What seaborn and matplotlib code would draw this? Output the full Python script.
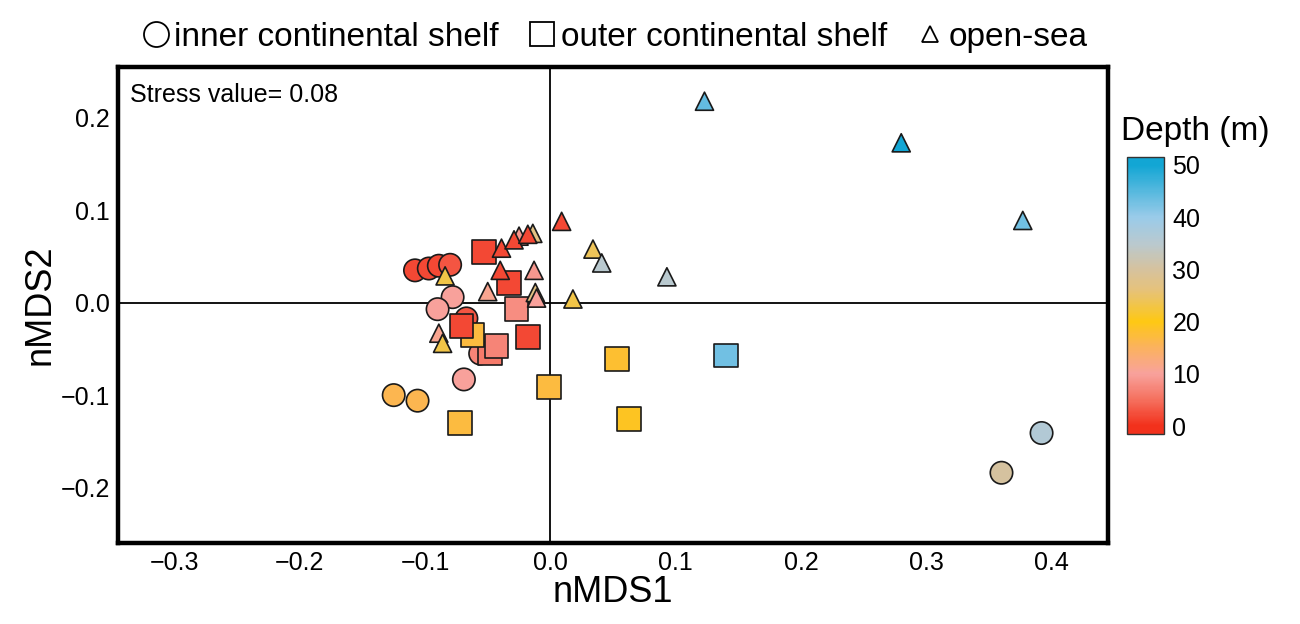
"""
nMDS ordination plot: stations coloured by depth, shaped by zone.
"""
import matplotlib

matplotlib.use("Agg")
import matplotlib.pyplot as plt
from matplotlib.colors import LinearSegmentedColormap, Normalize
from matplotlib.cm import ScalarMappable
from matplotlib.lines import Line2D
from matplotlib.ticker import FuncFormatter
import pandas as pd
import seaborn as sns

# ---------------------------------------------------------------------------
# data (nMDS1, nMDS2, depth in m)
# ---------------------------------------------------------------------------
inner_x = [-0.108, -0.097, -0.089, -0.080, -0.078, -0.090, -0.067, -0.056,
           -0.069, -0.125, -0.106, 0.392, 0.360]
inner_y = [0.035, 0.037, 0.040, 0.041, 0.006, -0.007, -0.017, -0.055,
           -0.083, -0.100, -0.106, -0.141, -0.184]
inner_depth = [2, 2, 2, 3, 10, 10, 3, 7, 10, 16, 16, 36, 30]

outer_x = [-0.053, -0.033, -0.027, -0.048, -0.043, -0.062, -0.071, -0.018,
           -0.001, -0.072, 0.053, 0.063, 0.140]
outer_y = [0.055, 0.021, -0.007, -0.055, -0.047, -0.035, -0.025, -0.037,
           -0.091, -0.130, -0.061, -0.126, -0.057]
outer_depth = [2, 2, 8, 6, 7, 17, 2, 2, 17, 17, 18, 19, 43]

sea_x = [0.009, -0.084, -0.025, -0.014, -0.039, -0.029, -0.018, -0.040,
         -0.013, -0.050, -0.012, -0.011, -0.089, -0.086, 0.034, 0.041,
         0.093, 0.018, 0.123, 0.280, 0.377]
sea_y = [0.088, 0.029, 0.072, 0.075, 0.059, 0.068, 0.074, 0.035,
         0.035, 0.012, 0.011, 0.005, -0.033, -0.044, 0.058, 0.043,
         0.028, 0.004, 0.218, 0.173, 0.089]
sea_depth = [2, 23, 9, 27, 2, 2, 2, 2, 9, 11, 27, 10, 11, 23, 24, 35,
             35, 23, 44, 50, 43]

zone_labels = ["inner continental shelf", "outer continental shelf", "open-sea"]
stress_text = "Stress value= 0.08"

# colour scale of the depth bar
depth_stops = [0, 5, 10, 15, 20, 26, 30, 35, 40, 50]
stop_colors = ["#f2311c", "#f5705e", "#f8a29c", "#fbb25e", "#fec814",
               "#e6c27a", "#d6c29e", "#b9c9cf", "#9acbe9", "#12a6d4"]
depth_ticks = [0, 10, 20, 30, 40, 50]

# ---------------------------------------------------------------------------
sns.set_style("white")
plt.rcParams["font.family"] = ["Liberation Sans", "DejaVu Sans"]
plt.rcParams["text.color"] = "black"
plt.rcParams["axes.labelcolor"] = "black"
plt.rcParams["xtick.color"] = "black"
plt.rcParams["ytick.color"] = "black"

vmin, vmax = -1.5, 51.5
norm = Normalize(vmin=vmin, vmax=vmax)
# the bar runs slightly past 0 and 50, ends keep the end colours
cmap = LinearSegmentedColormap.from_list(
    "depth",
    [(0.0, stop_colors[0])]
    + [((d - vmin) / (vmax - vmin), c) for d, c in zip(depth_stops, stop_colors)]
    + [(1.0, stop_colors[-1])],
)

df_inner = pd.DataFrame({"x": inner_x, "y": inner_y, "depth": inner_depth})
df_outer = pd.DataFrame({"x": outer_x, "y": outer_y, "depth": outer_depth})
df_sea = pd.DataFrame({"x": sea_x, "y": sea_y, "depth": sea_depth})

fig = plt.figure(figsize=(13, 6.24), dpi=100)
ax = fig.add_axes([0.0908, 0.1298, 0.7615, 0.7628])

ax.axhline(0, color="black", lw=1.3, zorder=1)
ax.axvline(0, color="black", lw=1.3, zorder=1)

comunes = dict(x="x", y="y", hue="depth", palette=cmap, hue_norm=norm,
               edgecolor="#1a1a1a", linewidth=1.2, legend=False, ax=ax, zorder=3)
sns.scatterplot(data=df_inner, marker="o", s=260, **comunes)
sns.scatterplot(data=df_outer, marker="s", s=290, **comunes)
sns.scatterplot(data=df_sea, marker="^", s=170, **comunes)

# tick labels with a real minus sign
fmt = FuncFormatter(lambda v, _: f"{v:.1f}".replace("-", "\u2212"))

ax.set_xlim(-0.345, 0.445)
ax.set_ylim(-0.26, 0.255)
ax.set_xticks([-0.3, -0.2, -0.1, 0.0, 0.1, 0.2, 0.3, 0.4])
ax.set_yticks([-0.2, -0.1, 0.0, 0.1, 0.2])
ax.xaxis.set_major_formatter(fmt)
ax.yaxis.set_major_formatter(fmt)
ax.tick_params(labelsize=18, length=0, pad=6)
ax.set_xlabel("nMDS1", fontsize=26, labelpad=0)
ax.set_ylabel("nMDS2", fontsize=26, labelpad=2)
for spine in ax.spines.values():
    spine.set_linewidth(3.2)
    spine.set_color("black")

ax.text(0.012, 0.942, stress_text, transform=ax.transAxes, ha="left",
        va="center", fontsize=18)

# legend of the three zones, open symbols on top
handles = [
    Line2D([], [], ls="", marker="o", ms=18, mfc="white", mec="black", mew=1.3),
    Line2D([], [], ls="", marker="s", ms=17, mfc="white", mec="black", mew=1.3),
    Line2D([], [], ls="", marker="^", ms=11, mfc="white", mec="black", mew=1.3),
]
fig.legend(handles, zone_labels, loc="center", bbox_to_anchor=(0.472, 0.94),
           ncol=3, frameon=False, fontsize=24, handletextpad=0.05,
           columnspacing=0.8, handlelength=1.0)

# depth colour bar
cax = fig.add_axes([0.867, 0.3045, 0.0285, 0.444])
cb = fig.colorbar(ScalarMappable(norm=norm, cmap=cmap), cax=cax, ticks=depth_ticks)
cb.outline.set_linewidth(1.0)
cb.outline.set_edgecolor("#333333")
cax.tick_params(labelsize=18, length=0, pad=6)
fig.text(0.862, 0.79, "Depth (m)", ha="left", va="center", fontsize=24)

fig.savefig("out.png", dpi=100)
plt.close(fig)
